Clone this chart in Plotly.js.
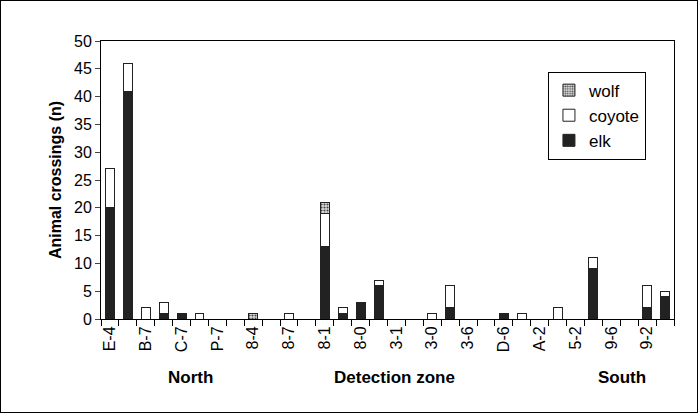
<!DOCTYPE html>
<html><head><meta charset="utf-8">
<script src="https://cdn.plot.ly/plotly-3.0.1.min.js"></script>
<style>body{margin:0}#c{width:698px;height:413px;box-sizing:border-box;border:1px solid #000}</style>
</head><body><div id="c"></div>
<script>
// one slot per site, labels printed on every other slot
var labels = ["E-4","","B-7","","C-7","","P-7","","8-4","","8-7","","8-1","","8-0","","3-1","","3-0","","3-6","","D-6","","A-2","","5-2","","9-6","","9-2",""];
var elk    = [20,41,0,1,1,0,0,0,0,0,0,0,13,1,3,6,0,0,0,2,0,0,1,0,0,0,0,9,0,0,2,4];
var coyote = [7,5,2,2,0,1,0,0,0,0,1,0,6,1,0,1,0,0,1,4,0,0,0,1,0,2,0,2,0,0,4,1];
var wolf   = [0,0,0,0,0,0,0,0,1,0,0,0,2,0,0,0,0,0,0,0,0,0,0,0,0,0,0,0,0,0,0,0];
var groups = ["North","Detection zone","South"];

var idx = labels.map(function(l,i){return i;});
var tv = idx.filter(function(i){return labels[i]!=="";});
var tt = tv.map(function(i){return labels[i];});
var line = {color:'#222', width:1};

var traces = [
  {type:'bar', name:'elk', x:idx, y:elk, marker:{color:'#222', line:line}},
  {type:'bar', name:'coyote', x:idx, y:coyote, marker:{color:'#fff', line:line}},
  {type:'bar', name:'wolf', x:idx, y:wolf, marker:{color:'#fff', line:line,
     pattern:{shape:'.', fgcolor:'#444', bgcolor:'#ddd', size:3, solidity:0.4}}}
];

var layout = {
  width:698, height:413,
  barmode:'stack', bargap:0.5,
  margin:{l:100, r:25, t:40, b:95},
  font:{family:'Liberation Sans, Arial, sans-serif', size:16, color:'#000'},
  plot_bgcolor:'#fff', paper_bgcolor:'rgba(0,0,0,0)',
  showlegend:true,
  legend:{x:0.78, y:0.89, xanchor:'left', yanchor:'top', bordercolor:'#000', borderwidth:1,
          traceorder:'reversed', font:{size:17}, bgcolor:'#fff', itemwidth:30, tracegroupgap:8},
  xaxis:{range:[-0.5,31.5], tickvals:tv, ticktext:tt, tickangle:-90, ticks:'',
         showline:true, linecolor:'#000', mirror:true, showgrid:false, zeroline:false,
         tickfont:{size:16},
         minor:{tickmode:'linear', tick0:-0.5, dtick:1, ticks:'outside', ticklen:6, tickcolor:'#000', showgrid:false}},
  yaxis:{range:[0,50], dtick:5, ticks:'outside', ticklen:5, showline:true, linecolor:'#000', mirror:true,
         showgrid:false, zeroline:false, tickfont:{size:16},
         title:{text:'<b>Animal crossings (n)</b>', font:{size:16}, standoff:8}},
  annotations:[
    {text:'<b>'+groups[0]+'</b>', xref:'x', yref:'paper', x:4.5, y:-0.25, showarrow:false, font:{size:17}},
    {text:'<b>'+groups[1]+'</b>', xref:'x', yref:'paper', x:15.9, y:-0.25, showarrow:false, font:{size:17}},
    {text:'<b>'+groups[2]+'</b>', xref:'x', yref:'paper', x:28.6, y:-0.25, showarrow:false, font:{size:17}}
  ]
};
Plotly.newPlot('c', traces, layout, {displayModeBar:false});
</script></body></html>
